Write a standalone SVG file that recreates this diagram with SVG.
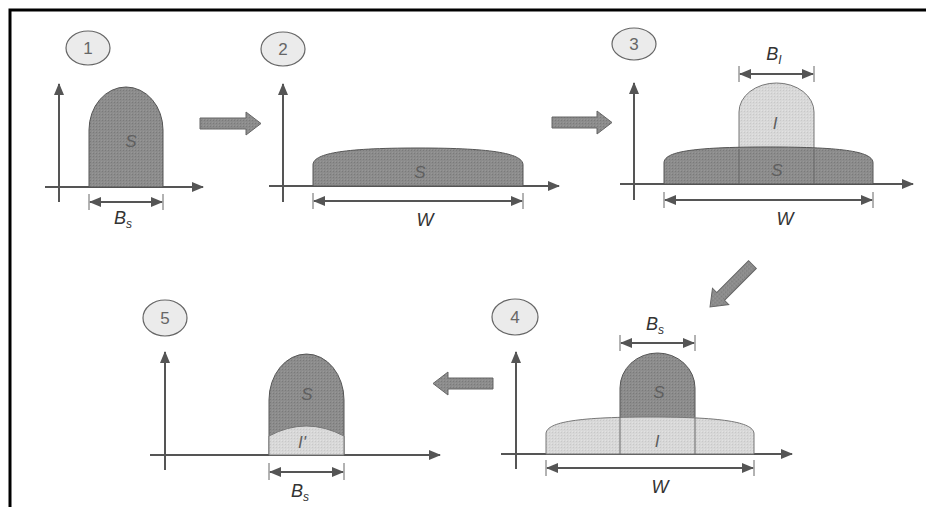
<svg xmlns="http://www.w3.org/2000/svg" width="926" height="507" viewBox="0 0 926 507">
<defs>
<marker id="ah" viewBox="0 0 12 10" refX="11" refY="5" markerWidth="12" markerHeight="10" markerUnits="userSpaceOnUse" orient="auto-start-reverse">
<path d="M0,0 L12,5 L0,10 Z" fill="#555"/>
</marker>
<pattern id="dk" width="3" height="3" patternUnits="userSpaceOnUse">
<rect width="3" height="3" fill="#8c8c8c"/>
<rect width="1" height="1" fill="#7a7a7a"/>
<rect x="2" y="2" width="1" height="1" fill="#979797"/>
</pattern>
<pattern id="lt" width="3" height="3" patternUnits="userSpaceOnUse">
<rect width="3" height="3" fill="#d8d8d8"/>
<rect width="1" height="1" fill="#c8c8c8"/>
<rect x="2" y="2" width="1" height="1" fill="#e2e2e2"/>
</pattern>
</defs>
<style>
.frame{fill:none;stroke:#000;stroke-width:3}
.axis{stroke:#555;stroke-width:2;fill:none}
.dim{stroke:#555;stroke-width:2;fill:none}
.tick{stroke:#666;stroke-width:1}
.dark{fill:url(#dk);stroke:#555;stroke-width:1}
.light{fill:url(#lt);stroke:#777;stroke-width:1}
.div{stroke:#666;stroke-width:1}
.badge{fill:#ebebeb;stroke:#666;stroke-width:1.2}
.num{font-family:"Liberation Sans",Arial,sans-serif;font-size:17px;fill:#666;text-anchor:middle}
.lab{font-family:"Liberation Sans",Arial,sans-serif;font-style:italic;font-size:17px;fill:#5f5f5f;text-anchor:middle}
.dl{font-family:"Liberation Sans",Arial,sans-serif;font-style:italic;font-size:18px;fill:#333;text-anchor:middle}
.sub{font-size:12px}
.blk{fill:url(#dk);stroke:#666;stroke-width:1}
</style>
<rect width="926" height="507" fill="#fff"/>
<path class="frame" d="M926,10 H10 V507"/>

<g id="panel1">
<ellipse class="badge" cx="88" cy="48" rx="22" ry="17"/>
<text class="num" x="88" y="54">1</text>
<line class="axis" x1="59" y1="202" x2="59" y2="84" marker-end="url(#ah)"/>
<line class="axis" x1="45" y1="187" x2="203" y2="187" marker-end="url(#ah)"/>
<path class="dark" d="M89,187 V130 A37,43 0 0 1 163,130 V187 Z"/>
<text class="lab" x="131" y="147">S</text>
<line class="tick" x1="89" y1="194" x2="89" y2="210"/>
<line class="tick" x1="163" y1="194" x2="163" y2="210"/>
<line class="dim" x1="90" y1="202" x2="162" y2="202" marker-start="url(#ah)" marker-end="url(#ah)"/>
<text class="dl" x="123" y="224">B<tspan class="sub" dy="4">s</tspan></text>
</g>

<g id="panel2">
<ellipse class="badge" cx="283" cy="49" rx="22" ry="17"/>
<text class="num" x="283" y="55">2</text>
<line class="axis" x1="283" y1="202" x2="283" y2="84" marker-end="url(#ah)"/>
<line class="axis" x1="269" y1="186" x2="559" y2="186" marker-end="url(#ah)"/>
<path class="dark" d="M313,186 V165 C313,154 340,148 418,148 C496,148 523,154 523,165 V186 Z"/>
<text class="lab" x="420" y="178">S</text>
<line class="tick" x1="313" y1="193" x2="313" y2="209"/>
<line class="tick" x1="523" y1="193" x2="523" y2="209"/>
<line class="dim" x1="314" y1="201" x2="522" y2="201" marker-start="url(#ah)" marker-end="url(#ah)"/>
<text class="dl" x="425" y="226">W</text>
</g>

<g id="panel3">
<ellipse class="badge" cx="634" cy="44" rx="22" ry="16"/>
<text class="num" x="634" y="50">3</text>
<line class="axis" x1="634" y1="200" x2="634" y2="83" marker-end="url(#ah)"/>
<line class="axis" x1="620" y1="184" x2="913" y2="184" marker-end="url(#ah)"/>
<path class="light" d="M739,152 V112 A37.5,29 0 0 1 814,112 V152 Z"/>
<path class="dark" d="M664,184 V163 C664,152 690,147 768,147 C846,147 873,152 873,163 V184 Z"/>
<line class="div" x1="739" y1="149" x2="739" y2="184"/>
<line class="div" x1="814" y1="149" x2="814" y2="184"/>
<text class="lab" x="775" y="129">I</text>
<text class="lab" x="777" y="176">S</text>
<line class="tick" x1="739" y1="66" x2="739" y2="82"/>
<line class="tick" x1="814" y1="66" x2="814" y2="82"/>
<line class="dim" x1="740" y1="74" x2="813" y2="74" marker-start="url(#ah)" marker-end="url(#ah)"/>
<text class="dl" x="774" y="60">B<tspan class="sub" dy="4">I</tspan></text>
<line class="tick" x1="664" y1="192" x2="664" y2="208"/>
<line class="tick" x1="873" y1="192" x2="873" y2="208"/>
<line class="dim" x1="665" y1="200" x2="872" y2="200" marker-start="url(#ah)" marker-end="url(#ah)"/>
<text class="dl" x="785" y="225">W</text>
</g>

<g id="panel4">
<ellipse class="badge" cx="515" cy="317" rx="23" ry="18"/>
<text class="num" x="515" y="323">4</text>
<line class="axis" x1="516" y1="469" x2="516" y2="352" marker-end="url(#ah)"/>
<line class="axis" x1="501" y1="454" x2="792" y2="454" marker-end="url(#ah)"/>
<path class="dark" d="M620,422 V388 A37.5,35 0 0 1 695,388 V422 Z"/>
<path class="light" d="M546,454 V434 C546,423 572,417 650,417 C728,417 754,423 754,434 V454 Z"/>
<line class="div" x1="620" y1="417" x2="620" y2="454"/>
<line class="div" x1="695" y1="418" x2="695" y2="454"/>
<text class="lab" x="659" y="398">S</text>
<text class="lab" x="657" y="447">I</text>
<line class="tick" x1="620" y1="335" x2="620" y2="351"/>
<line class="tick" x1="695" y1="335" x2="695" y2="351"/>
<line class="dim" x1="621" y1="343" x2="694" y2="343" marker-start="url(#ah)" marker-end="url(#ah)"/>
<text class="dl" x="655" y="330">B<tspan class="sub" dy="4">s</tspan></text>
<line class="tick" x1="546" y1="460" x2="546" y2="476"/>
<line class="tick" x1="754" y1="460" x2="754" y2="476"/>
<line class="dim" x1="547" y1="468" x2="753" y2="468" marker-start="url(#ah)" marker-end="url(#ah)"/>
<text class="dl" x="660" y="493">W</text>
</g>

<g id="panel5">
<ellipse class="badge" cx="165" cy="318" rx="22" ry="18"/>
<text class="num" x="165" y="324">5</text>
<line class="axis" x1="165" y1="470" x2="165" y2="352" marker-end="url(#ah)"/>
<line class="axis" x1="150" y1="455" x2="440" y2="455" marker-end="url(#ah)"/>
<path class="dark" d="M269,455 V400 A37.5,46 0 0 1 344,400 V455 Z"/>
<path class="light" d="M269,455 V436 Q306,416 344,436 V455 Z"/>
<text class="lab" x="307" y="400">S</text>
<text class="lab" x="302" y="448">I'</text>
<line class="tick" x1="269" y1="463" x2="269" y2="480"/>
<line class="tick" x1="344" y1="463" x2="344" y2="480"/>
<line class="dim" x1="270" y1="472" x2="343" y2="472" marker-start="url(#ah)" marker-end="url(#ah)"/>
<text class="dl" x="300" y="497">B<tspan class="sub" dy="4">s</tspan></text>
</g>

<g id="connectors">
<polygon class="blk" points="200,118 246,118 246,112 261,123.5 246,135 246,129 200,129"/>
<polygon class="blk" points="552,117 597,117 597,111 612,122.5 597,134 597,128 552,128"/>
<polygon class="blk" transform="translate(710,307) rotate(-45)" points="0,0 15,-11.5 15,-5.5 60,-5.5 60,5.5 15,5.5 15,11.5"/>
<polygon class="blk" points="493,378 448,378 448,372 433,383.5 448,395 448,389 493,389"/>
</g>
</svg>
